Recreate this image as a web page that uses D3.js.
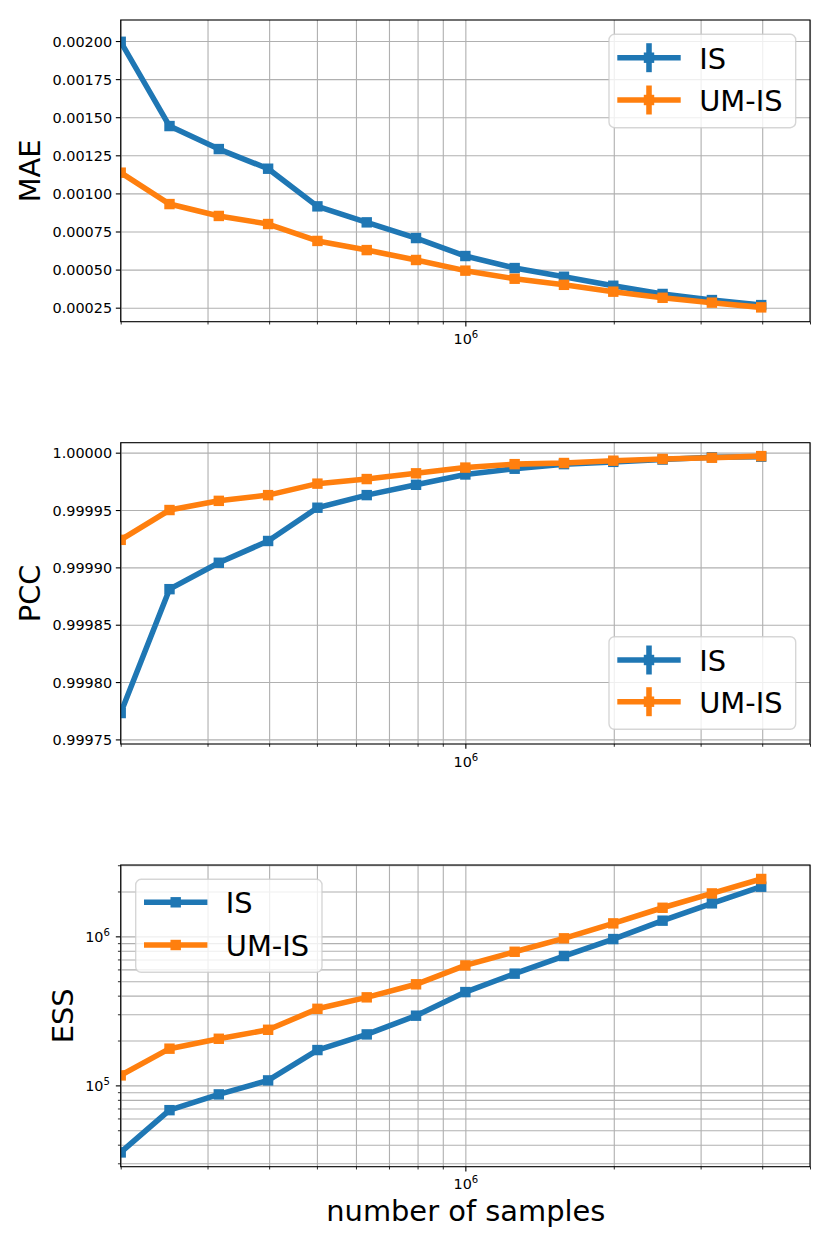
<!DOCTYPE html>
<html>
<head>
<meta charset="utf-8">
<script src="https://cdn.jsdelivr.net/npm/d3@7"></script>
<style>
  body { margin: 0; background: #fff; }
  svg, svg text { font-family: "DejaVu Sans", sans-serif; }
</style>
</head>
<body>
<div id="chart"></div>
<script>
  var width = 830;
  var height = 1246;

// number of samples (x, log axis)
var samples = [200000, 251189, 316228, 398107, 501187, 630957, 794328,
               1000000, 1258925, 1584893, 1995262, 2511886, 3162278, 3981072];

var series_names = ["IS", "UM-IS"];
var series_colors = ["#1f77b4", "#ff7f0e"];

var mae_is = [0.001995, 0.001442, 0.001291, 0.001162, 0.000915, 0.000810, 0.000707,
              0.000589, 0.000510, 0.000453, 0.000394, 0.000340, 0.000300, 0.000267];
var mae_umis = [0.001136, 0.000930, 0.000852, 0.000799, 0.000688, 0.000628, 0.000563,
                0.000493, 0.000440, 0.000400, 0.000355, 0.000315, 0.000283, 0.000252];

var pcc_is = [0.999773, 0.999881, 0.999904, 0.999923, 0.999952, 0.999963, 0.999972,
              0.999981, 0.999986, 0.999990, 0.999992, 0.999994, 0.999996, 0.9999965];
var pcc_umis = [0.999924, 0.999950, 0.999958, 0.999963, 0.999973, 0.999977, 0.999982,
                0.999987, 0.999990, 0.999991, 0.999993, 0.9999945, 0.9999956, 0.999997];

var ess_is = [35500, 68200, 87000, 108000, 172600, 219800, 293500,
              422700, 561800, 738000, 959000, 1274000, 1665000, 2153000];
var ess_umis = [116700, 176300, 205500, 236100, 326400, 389700, 476700,
                638000, 788000, 970000, 1222000, 1555000, 1941000, 2426000];

var mae_ticks = [0.00025, 0.0005, 0.00075, 0.001, 0.00125, 0.0015, 0.00175, 0.002];
var pcc_ticks = [0.99975, 0.9998, 0.99985, 0.9999, 0.99995, 1.0];

var x_domain = [2e5, 5e6];

var svg = d3.select("#chart").append("svg")
  .attr("width", width)
  .attr("height", height);

var pt = 100 / 72; // px per point
var line_w = 4 * pt;
var marker_size = 7.5 * pt;
var grid_color = "#b0b0b0";
var tick_font = 14.4;
var big_font = 28.9;

var panels = [
  { name: "mae", label: "MAE", top: 20, bottom: 321.7, log: false,
    domain: [0.000158, 0.002138], ticks: mae_ticks, values: [mae_is, mae_umis],
    errorbar: true, legend: { x0: 609, y0: 34.3, x1: 795.7, y1: 127.7, handle: 617.3, text: 699.2, rows: [57.7, 100] },
    ylabel_x: 40 },
  { name: "pcc", label: "PCC", top: 442.7, bottom: 744, log: false,
    domain: [0.999746, 1.0000087], ticks: pcc_ticks, values: [pcc_is, pcc_umis],
    errorbar: true, legend: { x0: 609, y0: 636.7, x1: 795.7, y1: 729.3, handle: 617.3, text: 699.2, rows: [660, 701.7] },
    ylabel_x: 40 },
  { name: "ess", label: "ESS", top: 865, bottom: 1166.7, log: true,
    domain: [28470, 3011000], values: [ess_is, ess_umis],
    errorbar: false, legend: { x0: 135.7, y0: 879.3, x1: 322, y1: 972.3, handle: 144, text: 225.8, rows: [902.3, 945] },
    ylabel_x: 73.3 }
];

var left = 120.7, right = 810;

var isPow10 = function(v){
  var l = Math.log10(v);
  return Math.abs(l - Math.round(l)) < 1e-9;
};

var superscriptLabel = function(sel, exp, anchor){
  sel.attr("text-anchor", anchor)
    .attr("font-family", "DejaVu Sans")
    .attr("font-size", tick_font)
    .attr("fill", "#000");
  sel.append("tspan").text("10");
  sel.append("tspan").text(exp).attr("font-size", tick_font * 0.7).attr("dy", -6);
};

panels.forEach(function(p, pi){
  var g = svg.append("g").attr("class", "panel " + p.name);

  var x = d3.scaleLog().domain(x_domain).range([left, right]);
  var y = (p.log ? d3.scaleLog() : d3.scaleLinear()).domain(p.domain).range([p.bottom, p.top]);
  var h = p.bottom - p.top;

  var x_all = x.ticks();
  var x_major = x_all.filter(isPow10);
  var x_minor = x_all.filter(function(v){ return !isPow10(v); });

  // grid
  var grid = g.append("g").attr("class", "grid");
  grid.append("g")
    .attr("transform", "translate(0," + p.bottom + ")")
    .call(d3.axisBottom(x).tickValues(x_all).tickSize(-h).tickFormat(""));
  var y_major, y_minor = [];
  if(p.log){
    var y_all = y.ticks();
    y_major = y_all.filter(isPow10);
    y_minor = y_all.filter(function(v){ return !isPow10(v); });
    grid.append("g")
      .attr("transform", "translate(" + left + ",0)")
      .call(d3.axisLeft(y).tickValues(y_all).tickSize(-(right-left)).tickFormat(""));
  }else{
    y_major = p.ticks;
    grid.append("g")
      .attr("transform", "translate(" + left + ",0)")
      .call(d3.axisLeft(y).tickValues(y_major).tickSize(-(right-left)).tickFormat(""));
  }
  grid.selectAll(".domain").remove();
  grid.selectAll("line").attr("stroke", grid_color).attr("stroke-width", 0.8*pt);

  // data
  var clipId = "clip-" + p.name;
  g.append("clipPath").attr("id", clipId)
    .append("rect").attr("x", left).attr("y", p.top).attr("width", right-left).attr("height", h);

  var plot = g.append("g").attr("clip-path", "url(#" + clipId + ")");
  var line = d3.line()
    .x(function(d){ return x(d[0]); })
    .y(function(d){ return y(d[1]); });

  p.values.forEach(function(vals, si){
    var pts = samples.map(function(n, i){ return [n, vals[i]]; });
    plot.append("path")
      .datum(pts)
      .attr("d", line)
      .attr("fill", "none")
      .attr("stroke", series_colors[si])
      .attr("stroke-width", line_w)
      .attr("stroke-linejoin", "round");
    plot.selectAll(".m" + si)
      .data(pts)
      .enter()
      .append("rect")
      .attr("class", "m" + si)
      .attr("x", function(d){ return x(d[0]) - marker_size/2; })
      .attr("y", function(d){ return y(d[1]) - marker_size/2; })
      .attr("width", marker_size)
      .attr("height", marker_size)
      .attr("fill", series_colors[si]);
  });

  // ticks
  var ax = g.append("g").attr("class", "axes");
  var xMinorAxis = ax.append("g")
    .attr("transform", "translate(0," + p.bottom + ")")
    .call(d3.axisBottom(x).tickValues(x_minor).tickSize(2*pt).tickFormat(""));
  xMinorAxis.selectAll("line").attr("stroke-width", 0.6*pt);
  var xMajorAxis = ax.append("g")
    .attr("transform", "translate(0," + p.bottom + ")")
    .call(d3.axisBottom(x).tickValues(x_major).tickSize(3.5*pt).tickFormat(""));
  xMajorAxis.selectAll("line").attr("stroke-width", 0.8*pt);
  xMajorAxis.selectAll(".tick").append("text")
    .attr("y", 22.8)
    .each(function(d){ superscriptLabel(d3.select(this), Math.round(Math.log10(d)), "middle"); });

  if(p.log){
    var yMinorAxis = ax.append("g")
      .attr("transform", "translate(" + left + ",0)")
      .call(d3.axisLeft(y).tickValues(y_minor).tickSize(2*pt).tickFormat(""));
    yMinorAxis.selectAll("line").attr("stroke-width", 0.6*pt);
    var yMajorAxis = ax.append("g")
      .attr("transform", "translate(" + left + ",0)")
      .call(d3.axisLeft(y).tickValues(y_major).tickSize(3.5*pt).tickFormat(""));
    yMajorAxis.selectAll("line").attr("stroke-width", 0.8*pt);
    yMajorAxis.selectAll(".tick").append("text")
      .attr("x", -10.8)
      .attr("y", 5.4)
      .each(function(d){ superscriptLabel(d3.select(this), Math.round(Math.log10(d)), "end"); });
  }else{
    var yAxis = ax.append("g")
      .attr("transform", "translate(" + left + ",0)")
      .call(d3.axisLeft(y).tickValues(y_major).tickSize(3.5*pt).tickPadding(3.8)
        .tickFormat(function(d){ return d.toFixed(5); }));
    yAxis.selectAll("line").attr("stroke-width", 0.8*pt);
    yAxis.selectAll("text")
      .attr("font-size", tick_font)
      .attr("font-family", "DejaVu Sans")
      .attr("fill", "#000")
      .attr("dy", "0.36em");
  }
  ax.selectAll(".domain").remove();
  ax.selectAll("line").attr("stroke", "#000");

  // spines
  g.append("rect")
    .attr("x", left).attr("y", p.top)
    .attr("width", right-left).attr("height", h)
    .attr("fill", "none")
    .attr("stroke", "#000")
    .attr("stroke-width", 0.8*pt);

  // y label
  g.append("text")
    .attr("transform", "translate(" + p.ylabel_x + "," + ((p.top + p.bottom)/2) + ") rotate(-90)")
    .attr("text-anchor", "middle")
    .attr("font-size", big_font)
    .attr("fill", "#000")
    .text(p.label);

  // legend
  var lg = p.legend;
  var leg = g.append("g").attr("class", "legend");
  leg.append("rect")
    .attr("x", lg.x0).attr("y", lg.y0)
    .attr("width", lg.x1 - lg.x0).attr("height", lg.y1 - lg.y0)
    .attr("rx", 5.5).attr("ry", 5.5)
    .attr("fill", "rgba(255,255,255,0.8)")
    .attr("stroke", "rgba(204,204,204,0.8)")
    .attr("stroke-width", 1.0*pt);
  var hl = 63.4;
  series_names.forEach(function(name, si){
    var cy = lg.rows[si];
    var cx = lg.handle + hl/2;
    leg.append("line")
      .attr("x1", lg.handle).attr("x2", lg.handle + hl)
      .attr("y1", cy).attr("y2", cy)
      .attr("stroke", series_colors[si])
      .attr("stroke-width", line_w);
    if(p.errorbar){
      leg.append("line")
        .attr("x1", cx).attr("x2", cx)
        .attr("y1", cy - 14.5).attr("y2", cy + 14.5)
        .attr("stroke", series_colors[si])
        .attr("stroke-width", line_w);
    }
    leg.append("rect")
      .attr("x", cx - marker_size/2).attr("y", cy - marker_size/2)
      .attr("width", marker_size).attr("height", marker_size)
      .attr("fill", series_colors[si]);
    leg.append("text")
      .attr("x", lg.text).attr("y", cy + 10.8)
      .attr("font-size", big_font)
      .attr("fill", "#000")
      .text(name);
  });
});

// x label
svg.append("text")
  .attr("x", 465.8)
  .attr("y", 1220.7)
  .attr("text-anchor", "middle")
  .attr("font-size", big_font)
  .attr("fill", "#000")
  .text("number of samples");
</script>
</body>
</html>
